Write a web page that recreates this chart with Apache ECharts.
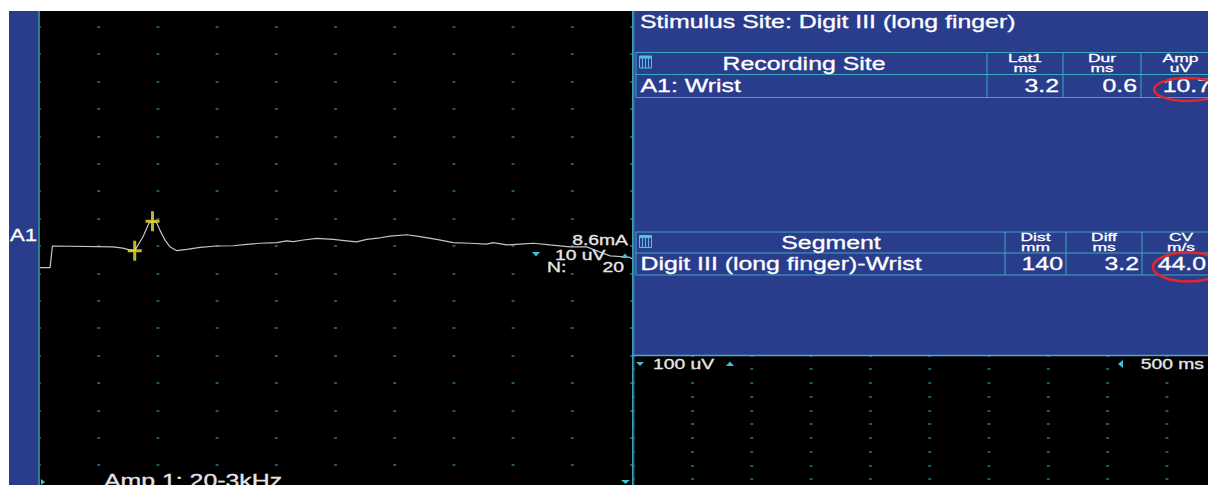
<!DOCTYPE html>
<html>
<head>
<meta charset="utf-8">
<title>A1 Wrist</title>
<script src="https://cdn.jsdelivr.net/npm/echarts@6.0.0/dist/echarts.min.js"></script>
<style>
html, body { margin: 0; padding: 0; background: #fff; }
#main { width: 1208px; height: 485px; }
</style>
</head>
<body>
<div id="main"></div>
<script>
// A1 波形 (ms / uV)
const traceTime = [0, 0.34, 0.42, 2.47, 2.80, 3.05, 3.20, 3.48, 3.68, 3.80, 3.94, 4.05, 4.22, 4.39, 4.62, 4.96, 5.41, 5.97, 6.53, 6.98, 7.43, 8.00, 8.33, 8.56, 8.90, 9.35, 9.91, 10.36, 10.70, 11.04, 11.49, 11.82, 12.39, 12.84, 13.40, 13.96, 14.53, 15.09, 15.31, 15.77, 16.22, 16.67, 17.23, 17.91, 18.47, 19.03, 19.26, 19.93, 20.0];
const traceAmp = [-7.9, -7.9, 0, -0.3, -0.8, -1.5, -1.7, 3.4, 8.3, 9.0, 8.5, 5.8, 2.2, -0.3, -1.7, -1.2, -0.5, 0, 0.1, 0.6, 1.0, 1.2, 1.9, 1.6, 2.2, 2.8, 2.4, 1.9, 1.5, 2.4, 3.0, 3.6, 4.1, 3.4, 2.4, 1.2, 1.0, 0.7, 1.2, 0.4, 0.7, 1.0, 0.4, -0.3, -0.3, -2.7, -3.6, -4.1, -4.7];
// 光标 (Lat1 / 峰)
const cursorTime = [3.2, 3.8];
const cursorAmp = [-1.7, 9.0];
// 刻度 2 ms/div, 10 uV/div ; 下方窗口 500 ms/div, 100 uV/div
const timeTicks = [0, 20, 2];
const ampTicks = [-90, 90, 10];
const freeTimeTicks = [0, 5000, 500];
const freeAmpTicks = [-500, 500, 100];

// 表格
const stimulusTitle = 'Stimulus Site: Digit III (long finger)';
const recordHeader = ['Recording Site', 'Lat1', 'ms', 'Dur', 'ms', 'Amp', 'uV'];
const recordRow = ['A1: Wrist', '3.2', '0.6', '10.7'];
const segmentHeader = ['Segment', 'Dist', 'mm', 'Diff', 'ms', 'CV', 'm/s'];
const segmentRow = ['Digit III (long finger)-Wrist', '140', '3.2', '44.0'];
const traceLabels = ['A1', '8.6mA', '10 uV', 'N:', '20', 'Amp 1: 20-3kHz'];
const freeLabels = ['100 uV', '500 ms'];

const BLUE = '#2a3c8c', CYAN = '#3ba9bf', TRI = '#3cc3da', DOT = '#217a87';
const FONT = '"Liberation Sans", Arial, sans-serif';

function rect(x, y, w, h, fill, z) {
	return { type: 'rect', z: z, shape: { x: x, y: y, width: w, height: h }, style: { fill: fill } };
}
function ln(x1, y1, x2, y2, color, w, z) {
	return { type: 'line', z: z || 50, shape: { x1: x1, y1: y1, x2: x2, y2: y2 }, style: { stroke: color || CYAN, lineWidth: w || 1 } };
}
function tri(pts) {
	return { type: 'polygon', z: 55, shape: { points: pts }, style: { fill: TRI } };
}
// 文字略加描边, 接近原图的粗细
function txt(x, y, s, size, align, color, sx, sy) {
	var c = color || '#fff';
	return {
		type: 'text', x: x, y: y, z: 60, scaleX: sx || 1.38, scaleY: sy || 1,
		style: {
			text: s, fill: c, stroke: c, lineWidth: 0.3, font: size + 'px ' + FONT,
			textAlign: align || 'left', textVerticalAlign: 'middle',
			align: align || 'left', verticalAlign: 'middle'
		}
	};
}
function icon(x, y) {
	var c = '#5bbbe0', list = [];
	list.push({ type: 'rect', z: 56, shape: { x: x, y: y, width: 12, height: 12 }, style: { fill: 'none', stroke: c, lineWidth: 1 } });
	list.push({ type: 'rect', z: 56, shape: { x: x, y: y, width: 12, height: 2.5 }, style: { fill: c } });
	[3, 6, 9].forEach(function (d) { list.push(ln(x + d, y, x + d, y + 12, c, 1, 56)); });
	return list;
}
function ellipse(cx, cy, rx, ry) {
	return { type: 'ellipse', z: 70, shape: { cx: cx, cy: cy, rx: rx, ry: ry }, style: { fill: 'none', stroke: '#e3262b', lineWidth: 2.5 } };
}

// 表格: 列边界, 行边界, 表头, 数据行
function table(cols, rows, head, row, headX, valRight) {
	var els = [];
	rows.forEach(function (y) { els.push(ln(cols[0], y, 1208, y)); });
	cols.slice(0, 4).forEach(function (x) { els.push(ln(x, rows[0], x, rows[2])); });
	els = els.concat(icon(cols[0] + 3.5, rows[0] + 3.5));
	var hy = (rows[0] + rows[1]) / 2, ry = (rows[1] + rows[2]) / 2;
	els.push(txt(headX, hy + 0.5, head[0], 18, 'center'));
	for (var i = 1; i <= 3; i++) {
		var cx = (cols[i] + cols[i + 1]) / 2;
		els.push(txt(cx, hy - 5, head[i * 2 - 1], 12, 'center', '#fff', 1.45, 0.85));
		els.push(txt(cx, hy + 4.5, head[i * 2], 12, 'center', '#fff', 1.45, 0.85));
	}
	els.push(txt(cols[0] + 4.5, ry, row[0], 18, 'left'));
	for (var j = 1; j <= 3; j++) {
		els.push(txt(valRight[j - 1], ry, row[j], 18, 'right'));
	}
	return els;
}

function buildGraphic() {
	var g = [];
	g.push(rect(9, 11, 29, 474, BLUE, 1));
	g.push(rect(633, 11, 575, 344, BLUE, 1));
	g.push(rect(38, 11, 2, 474, '#2e7d93', 50));
	g.push(ln(632.5, 11, 632.5, 485, '#3c9fb5', 1));
	g.push(ln(633.8, 11, 633.8, 485, '#3c9fb5', 1));
	g.push(ln(633, 355.5, 1208, 355.5, '#4aaad0', 1.5));

	g.push(txt(640, 22, stimulusTitle, 18, 'left'));
	g = g.concat(table([636, 987, 1063, 1141, 1220], [52.5, 74.5, 97.5], recordHeader, recordRow, 804, [1059, 1137, 1211]));
	g = g.concat(table([636, 1005, 1066, 1142, 1220], [232, 253, 275], segmentHeader, segmentRow, 831, [1063, 1139, 1206]));
	g.push(ellipse(1188, 89.5, 34, 11.5));
	g.push(ellipse(1188, 267, 35, 14.5));

	// 左侧波形窗口标签
	g.push(txt(10, 236, traceLabels[0], 16, 'left'));
	g.push(txt(628, 240, traceLabels[1], 14, 'right', '#e6e6e6'));
	g.push(tri([[532, 252], [540, 252], [536, 256.5]]));
	g.push(txt(555, 255, traceLabels[2], 14, 'left', '#e6e6e6'));
	g.push(tri([[621, 258], [629, 258], [625, 253.5]]));
	g.push(txt(547, 267, traceLabels[3], 14, 'left', '#e6e6e6'));
	g.push(txt(624, 267, traceLabels[4], 14, 'right', '#e6e6e6'));
	g.push(txt(104, 481, traceLabels[5], 18, 'left', '#e6e6e6'));
	g.push(tri([[621, 480], [630, 480], [625.5, 484]]));
	g.push(tri([[41, 479], [41, 485], [45, 482]]));

	// 下方自由运行窗口
	g.push(tri([[636, 362], [644, 362], [640, 366]]));
	g.push(txt(653, 364, freeLabels[0], 14, 'left', '#e6e6e6'));
	g.push(tri([[726, 366], [734, 366], [730, 361.5]]));
	g.push(tri([[1123, 360], [1123, 368], [1118, 364]]));
	g.push(txt(1204, 364, freeLabels[1], 14, 'right', '#e6e6e6'));

	// 白边
	g.push(rect(0, 0, 1208, 11, '#fff', 100));
	g.push(rect(0, 0, 9, 485, '#fff', 100));
	return g;
}

function xAx(idx, t) {
	return {
		type: 'value', gridIndex: idx, min: t[0], max: t[1], interval: t[2],
		axisLine: { show: false }, axisTick: { show: false }, axisLabel: { show: false }, splitLine: { show: false }
	};
}
function yAx(idx, t, period) {
	return {
		type: 'value', gridIndex: idx, min: t[0], max: t[1], interval: t[2],
		axisLine: { show: false }, axisTick: { show: false }, axisLabel: { show: false },
		splitLine: { show: true, lineStyle: { color: DOT, width: 1.5, type: [3, period - 3], dashOffset: 1.5 } }
	};
}

function init() {
	var chart = echarts.init(document.getElementById('main'), null, { renderer: 'svg' });
	var traceData = traceTime.map(function (t, i) { return [t, traceAmp[i]]; });
	var cursorData = cursorTime.map(function (t, i) { return [t, cursorAmp[i]]; });
	chart.setOption({
		backgroundColor: '#000',
		animation: false,
		grid: [
			{ left: 40, top: -0.6, width: 592, height: 493.2, outerBoundsMode: 'none' },
			{ left: 633.7, top: 355.25, width: 593, height: 137.5, outerBoundsMode: 'none' }
		],
		xAxis: [xAx(0, timeTicks), xAx(1, freeTimeTicks)],
		yAxis: [yAx(0, ampTicks, 59.2), yAx(1, freeAmpTicks, 59.3)],
		series: [{
			type: 'line', xAxisIndex: 0, yAxisIndex: 0, data: traceData,
			showSymbol: false, silent: true, z: 5,
			lineStyle: { color: '#c4c4c4', width: 1.2 }
		}, {
			type: 'scatter', xAxisIndex: 0, yAxisIndex: 0, data: cursorData, silent: true, z: 6,
			symbol: 'path://M5.5,0H8.5V20H5.5Z M0,8.5H14V11.5H0Z', symbolSize: [14, 20],
			itemStyle: { color: '#f2e628' }
		}],
		graphic: { elements: buildGraphic() }
	});
}
init();
</script>
</body>
</html>
